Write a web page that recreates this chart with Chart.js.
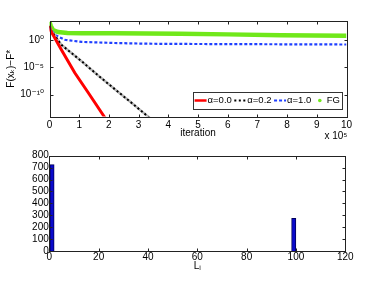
<!DOCTYPE html>
<html><head><meta charset="utf-8">
<script src="https://cdn.jsdelivr.net/npm/chart.js@4/dist/chart.umd.min.js"></script>
<style>
html,body{margin:0;padding:0;background:#fff;}
#wrap{position:relative;width:382px;height:283px;overflow:hidden;}
canvas{position:absolute;left:0;}
</style></head><body>
<div id="wrap">
<canvas id="topChart" width="382" height="140" style="top:0;width:382px;height:140px"></canvas>
<canvas id="botChart" width="382" height="143" style="top:140px;width:382px;height:143px"></canvas>
</div>
<script>
// ---- data (iterations in units of 1e5) ----
const iterRed   = [0, 0.03, 0.4, 0.85, 1.3, 1.84, 2.0];
const valRed    = [4e2, 6.3e1, 1.6e-2, 1e-6, 2.5e-10, 1e-14, 5e-16];
const iterBlack = [0, 0.07, 0.4, 1.08, 1.64, 2.2, 2.76, 3.29, 3.5];
const valBlack  = [4e2, 4e1, 1.3e-1, 1.3e-4, 3.2e-7, 1e-9, 3.2e-12, 1.3e-14, 1.6e-15];
const iterBlue  = [0, 0.18, 0.52, 1.08, 2.2, 3.29, 4.4, 7, 10];
const valBlue   = [2e2, 8, 1.1, 0.45, 0.28, 0.21, 0.19, 0.17, 0.15];
const iterFG    = [0, 0.04, 0.12, 0.29, 0.6, 1.08, 2.2, 3.29, 4.4, 6, 7.8, 10];
const valFG     = [2e3, 4e2, 6.3e1, 2.8e1, 2e1, 1.7e1, 1.65e1, 1.5e1, 1.35e1, 1.07e1, 7.6, 5.8];
const seriesLabels = ['α=0.0', 'α=0.2', 'α=1.0', 'FG'];

const iterTicks = [0,1,2,3,4,5,6,7,8,9,10];
const logTickValues = [1e-10, 1e-5, 1];
const logTickLabels = ['10⁻¹⁰', '10⁻⁵', '10⁰'];

const binCenters = [1.1, 99.1];
const binCounts  = [725, 275];
const lTicks = [0, 20, 40, 60, 80, 100, 120];
const countTicks = [0, 100, 200, 300, 400, 500, 600, 700, 800];

// ---- helpers ----
const FONT = '"Liberation Sans", Arial, "DejaVu Sans", sans-serif';
Chart.defaults.font.family = FONT;
Chart.defaults.font.size = 10;
Chart.defaults.color = '#000';
const pts = (xs, ys) => xs.map((x, i) => ({x: x, y: ys[i]}));

const framePlugin = {
  id: 'frame',
  afterDraw(chart) {
    const ctx = chart.ctx, ca = chart.chartArea;
    const L = Math.round(ca.left) + 0.5, R = Math.round(ca.right) + 0.5;
    const T = Math.round(ca.top) + 0.5, B = Math.round(ca.bottom) + 0.5;
    ctx.save();
    ctx.strokeStyle = '#222';
    ctx.lineWidth = 1;
    ctx.strokeRect(L, T, R - L, B - T);
    const tl = 3;
    ctx.beginPath();
    chart.scales.x.ticks.forEach(t => {
      const px = Math.round(chart.scales.x.getPixelForValue(t.value)) + 0.5;
      ctx.moveTo(px, B); ctx.lineTo(px, B - tl);
      ctx.moveTo(px, T); ctx.lineTo(px, T + tl);
    });
    chart.scales.y.ticks.forEach(t => {
      const py = Math.round(chart.scales.y.getPixelForValue(t.value)) + 0.5;
      ctx.moveTo(L, py); ctx.lineTo(L + tl, py);
      ctx.moveTo(R, py); ctx.lineTo(R - tl, py);
    });
    ctx.stroke();
    ctx.restore();
  }
};

const extrasPlugin = {
  id: 'extras',
  afterDraw(chart) {
    const ctx = chart.ctx, ca = chart.chartArea;
    ctx.save();
    // exponent label
    ctx.fillStyle = '#000';
    ctx.font = '10px ' + FONT;
    ctx.textAlign = 'right';
    ctx.textBaseline = 'middle';
    ctx.fillText('x 10⁵', ca.right + 1, 136);
    // legend
    ctx.font = '9.5px ' + FONT;
    const items = chart.data.datasets.filter(d => seriesLabels.includes(d.label));
    const sym = 12, g1 = 1, g2 = 2.5, padL = 1.5, padR = 2.5;
    let w = padL;
    items.forEach((it, i) => { w += sym + g1 + ctx.measureText(it.label).width + (i < items.length - 1 ? g2 : 0); });
    w += padR;
    const h = 16.5;
    const right = ca.right - 4, bottom = ca.bottom - 8.5;
    const left = right - w, top = bottom - h;
    ctx.fillStyle = '#fff';
    ctx.fillRect(left, top, w, h);
    ctx.strokeStyle = '#333';
    ctx.lineWidth = 1;
    ctx.strokeRect(Math.round(left) + 0.5, Math.round(top) + 0.5, Math.round(w), Math.round(h));
    let x = left + padL;
    const cy = Math.round(top + h / 2) + 0.5;
    items.forEach(it => {
      if (it.legendMarker) {
        ctx.fillStyle = it.borderColor;
        ctx.beginPath();
        ctx.arc(x + sym / 2, cy, 1.8, 0, Math.PI * 2);
        ctx.fill();
      } else {
        ctx.strokeStyle = it.borderColor;
        ctx.lineWidth = Math.min(it.borderWidth, 2.5);
        ctx.setLineDash(it.borderDash || []);
        ctx.beginPath();
        ctx.moveTo(x, cy); ctx.lineTo(x + sym, cy);
        ctx.stroke();
        ctx.setLineDash([]);
      }
      ctx.fillStyle = '#000';
      ctx.textAlign = 'left';
      ctx.textBaseline = 'middle';
      ctx.fillText(it.label, x + sym + g1, cy);
      x += sym + g1 + ctx.measureText(it.label).width + g2;
    });
    ctx.restore();
  }
};

// ---- top chart ----
new Chart(document.getElementById('topChart'), {
  type: 'line',
  data: {
    datasets: [
      {label: 'α=0.0', data: pts(iterRed, valRed), borderColor: '#ff0000', borderWidth: 3},
      {label: 'α=0.2', data: pts(iterBlack, valBlack), borderColor: '#000000', borderWidth: 2, borderDash: [2, 2.5]},
      {label: 'shade0.2', data: pts(iterBlack, valBlack), borderColor: '#b8b8b8', borderWidth: 2.5},
      {label: 'α=1.0', data: pts(iterBlue, valBlue), borderColor: '#1f3fff', borderWidth: 2.2, borderDash: [3, 2]},
      {label: 'FG', data: pts(iterFG, valFG), borderColor: '#70e81a', borderWidth: 4.5, legendMarker: true}
    ]
  },
  options: {
    responsive: false,
    animation: false,
    devicePixelRatio: 1,
    elements: {point: {radius: 0}, line: {tension: 0, fill: false, borderCapStyle: 'butt'}},
    layout: {padding: {left: 0, right: 35.5, top: 21, bottom: 0}},
    plugins: {legend: {display: false}, tooltip: {enabled: false}},
    scales: {
      x: {
        type: 'linear', min: 0, max: 10,
        afterBuildTicks: s => { s.ticks = iterTicks.map(v => ({value: v})); },
        grid: {display: false, drawTicks: false},
        border: {display: false},
        ticks: {padding: 2.5, maxRotation: 0, autoSkip: false, font: {size: 10}},
        title: {display: true, text: 'iteration', padding: {top: 0, bottom: 1}, font: {size: 10}},
        afterFit: s => { s.height = 23.5; }
      },
      y: {
        type: 'logarithmic', min: 1e-14, max: 3e3,
        afterBuildTicks: s => { s.ticks = logTickValues.map(v => ({value: v})); },
        grid: {display: false, drawTicks: false},
        border: {display: false},
        ticks: {padding: 5.5, autoSkip: false, font: {size: 10},
          callback: v => logTickLabels[logTickValues.indexOf(v)]},
        title: {display: true, text: 'F(xₖ)−F*', padding: {top: 5.5, bottom: 0}, font: {size: 10}},
        afterFit: s => { s.width = 49.5; }
      }
    }
  },
  plugins: [framePlugin, extrasPlugin]
});

// ---- bottom chart ----
new Chart(document.getElementById('botChart'), {
  type: 'bar',
  data: {
    datasets: [{
      label: 'count',
      data: pts(binCenters, binCounts),
      backgroundColor: '#0a0acc',
      borderColor: '#00005a',
      borderWidth: 1,
      barThickness: 4.3
    }]
  },
  options: {
    responsive: false,
    animation: false,
    devicePixelRatio: 1,
    layout: {padding: {left: 0, right: 36.7, top: 15.7, bottom: 0}},
    plugins: {legend: {display: false}, tooltip: {enabled: false}},
    scales: {
      x: {
        type: 'linear', min: 0, max: 120, offset: false,
        afterBuildTicks: s => { s.ticks = lTicks.map(v => ({value: v})); },
        grid: {display: false, drawTicks: false},
        border: {display: false},
        ticks: {padding: 0.5, maxRotation: 0, autoSkip: false, font: {size: 10}},
        title: {display: true, text: 'Lᵢ', padding: {top: 0, bottom: 11}, font: {size: 10}},
        afterFit: s => { s.height = 32; }
      },
      y: {
        type: 'linear', min: 0, max: 800,
        afterBuildTicks: s => { s.ticks = countTicks.map(v => ({value: v})); },
        grid: {display: false, drawTicks: false},
        border: {display: false},
        ticks: {padding: 0.5, autoSkip: false, font: {size: 10}},
        afterFit: s => { s.width = 49.3; }
      }
    }
  },
  plugins: [framePlugin]
});
</script>
</body></html>
